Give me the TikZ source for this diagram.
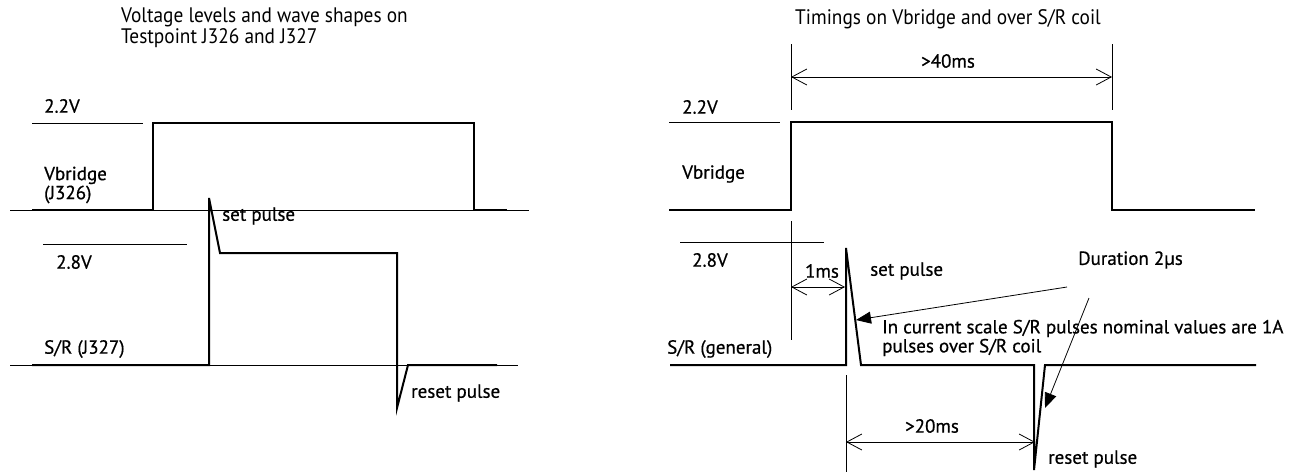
\documentclass[tikz,border=0pt]{standalone}
\usepackage{fontspec}
\setmainfont[FakeBold=0.6]{PT Sans}
\newfontfamily\titlefont[FakeStretch=0.92]{PT Sans}
\usetikzlibrary{arrows.meta}

\begin{document}
\begin{tikzpicture}[x=1pt, y=-1pt,
  lbl/.style={anchor=west, inner sep=0pt, align=left,
              font=\fontsize{19}{19}\selectfont},
  ttl/.style={anchor=west, inner sep=0pt, align=left,
              font=\titlefont\fontsize{21}{21}\selectfont},
  wave/.style={line width=2pt},
  thin/.style={line width=1pt},
  dimarr/.style={line width=0.8pt,
    {Straight Barb[length=15pt,width=16pt]}-{Straight Barb[length=15pt,width=16pt]}},
  note/.style={line width=0.8pt, -{Triangle[length=15pt,width=12pt]}}
]
  \useasboundingbox (0,0) rectangle (1306,472);

  % Left: voltage levels
  \node[ttl] (ltitle) at (121,28) {Voltage levels and wave shapes on\\Testpoint J326 and J327};
  \node[lbl] (l22) at (44,106) {2.2V};
  \node[lbl] (lvb) at (44,185) {Vbridge\\(J326)};
  \node[lbl] (l28) at (56,262) {2.8V};
  \node[lbl] (lsr) at (44,349) {S/R (J327)};
  \node[lbl] (lset) at (222,216) {set pulse};
  \node[lbl] (lreset) at (411,393) {reset pulse};

  \draw[thin] (32,123) -- (143,123);
  \draw[thin] (43,244) -- (187,244);
  \draw[thin] (10,210) -- (529,210);
  \draw[thin] (10,365) -- (518,365);

  \draw[wave] (32,210) -- (153,210) -- (153,123) -- (474,123) -- (474,210) -- (507,210);
  \draw[wave] (32,365) -- (209,365) -- (209,198) -- (220,253) -- (397,253)
    -- (397,408) -- (408,365) -- (497,365);

  % Right: timings
  \node[ttl] (rtitle) at (795,19) {Timings on Vbridge and over S/R coil};
  \node[lbl] (r22) at (682,107) {2.2V};
  \node[lbl] (rvb) at (682,174) {Vbridge};
  \node[lbl] (r28) at (692,260) {2.8V};
  \node[lbl] (rsr) at (667,349) {S/R (general)};
  \node[lbl] (rset) at (870,271) {set pulse};
  \node[lbl] (rreset) at (1048,459) {reset pulse};
  \node[lbl] (rdur) at (1078,260) {Duration 2µs};
  \node[lbl] (rnote) at (882,338) {In current scale S/R pulses nominal values are 1A\\pulses over S/R coil};
  \node[lbl, anchor=center] (t40) at (948,61) {>40ms};
  \node[lbl, anchor=center] (t1) at (822,271) {1ms};
  \node[lbl, anchor=center] (t20) at (932,426) {>20ms};

  \draw[thin] (669,122) -- (780,122);
  \draw[thin] (680,242) -- (824,242);

  \draw[wave] (669,210) -- (791,210) -- (791,122) -- (1112,122) -- (1112,210) -- (1255,210);
  \draw[wave] (670,365) -- (846,365) -- (846,248) -- (861,365) -- (1034,365)
    -- (1034,470) -- (1045,365) -- (1256,365);

  % dimension marks
  \coordinate (a1) at (791,44);  \coordinate (a2) at (791,110);
  \coordinate (b1) at (1112,44); \coordinate (b2) at (1112,110);
  \coordinate (c1) at (791,221); \coordinate (c2) at (791,340);
  \coordinate (d1) at (846,375); \coordinate (d2) at (846,472);
  \draw[thin] (a1) -- (a2);
  \draw[thin] (b1) -- (b2);
  \draw[thin] (c1) -- (c2);
  \draw[thin] (d1) -- (d2);

  \coordinate (p40a) at (791,77);  \coordinate (p40b) at (1112,77);
  \coordinate (p1a) at (791,287);  \coordinate (p1b) at (845,287);
  \coordinate (p20a) at (846,442); \coordinate (p20b) at (1035,442);
  \draw[dimarr] (p40a) -- (p40b);
  \draw[dimarr] (p1a) -- (p1b);
  \draw[dimarr] (p20a) -- (p20b);

  % duration pointers
  \coordinate (n1) at (1067,287); \coordinate (setpt) at (856,320);
  \coordinate (n2) at (1089,298); \coordinate (resetpt) at (1045,408);
  \draw[note] (n1) -- (setpt);
  \draw[note] (n2) -- (resetpt);
\end{tikzpicture}
\end{document}
